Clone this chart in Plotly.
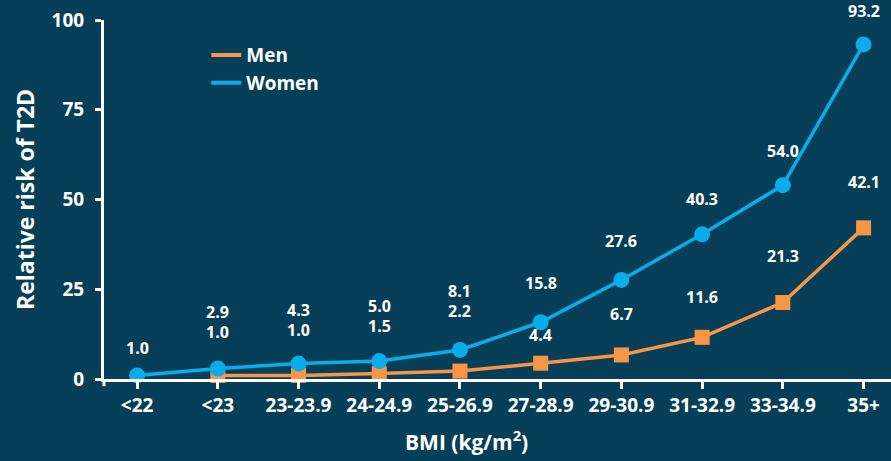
import plotly.graph_objects as go

# BMI categories and relative risk of type 2 diabetes
bmi_categories = ["<22", "<23", "23-23.9", "24-24.9", "25-26.9",
                  "27-28.9", "29-30.9", "31-32.9", "33-34.9", "35+"]
women_risk = [1.0, 2.9, 4.3, 5.0, 8.1, 15.8, 27.6, 40.3, 54.0, 93.2]
men_risk = [None, 1.0, 1.0, 1.5, 2.2, 4.4, 6.7, 11.6, 21.3, 42.1]
y_ticks = [0, 25, 50, 75, 100]

# vertical pixel offsets of the value labels above their markers
women_label_shift = [27, 57, 54, 55, 59, 39, 39, 35, 34, 33]
men_label_shift = [None, 43, 45, 48, 60, 28, 41, 40, 47, 46]

ORANGE = "#F79646"
BLUE = "#0AADEC"
BG = "#083F58"
FONT = "Open Sans"

fig = go.Figure()

fig.add_trace(go.Scatter(
    x=bmi_categories, y=men_risk, mode="lines+markers",
    line=dict(color=ORANGE, width=3.5),
    marker=dict(symbol="square", size=15, color=ORANGE),
    showlegend=False, cliponaxis=False, connectgaps=False,
))
fig.add_trace(go.Scatter(
    x=bmi_categories, y=women_risk, mode="lines+markers",
    line=dict(color=BLUE, width=3.5),
    marker=dict(symbol="circle", size=16, color=BLUE),
    showlegend=False, cliponaxis=False,
))

# legend entries drawn as plain lines
fig.add_trace(go.Scatter(x=[None], y=[None], mode="lines", name="Men",
                         line=dict(color=ORANGE, width=4)))
fig.add_trace(go.Scatter(x=[None], y=[None], mode="lines", name="Women",
                         line=dict(color=BLUE, width=4)))

label_font = dict(family=FONT, size=16, color="white", weight="bold")
for cat, v, s in zip(bmi_categories, women_risk, women_label_shift):
    fig.add_annotation(x=cat, y=v, text=f"{v:.1f}", showarrow=False,
                       yshift=s, font=label_font)
for cat, v, s in zip(bmi_categories, men_risk, men_label_shift):
    if v is None:
        continue
    fig.add_annotation(x=cat, y=v, text=f"{v:.1f}", showarrow=False,
                       yshift=s, font=label_font)

# axis titles
fig.add_annotation(xref="paper", yref="paper", x=-0.101, y=0.5,
                   xanchor="center", yanchor="middle",
                   text="Relative risk of T2D", textangle=-90, showarrow=False,
                   font=dict(family=FONT, size=23, color="white", weight="bold"))
fig.add_annotation(xref="paper", yref="paper", x=0.46, y=-0.17,
                   xanchor="center", yanchor="middle",
                   text="BMI (kg/m<sup>2</sup>)", showarrow=False,
                   font=dict(family=FONT, size=21, color="white", weight="bold"))

# small downward extension of the y axis line below the x axis
fig.add_shape(type="line", xref="paper", yref="paper", x0=0, x1=0,
              y0=0, y1=-0.02, line=dict(color="white", width=3))

tick_font = dict(family=FONT, size=19, color="white", weight="bold")
fig.update_xaxes(
    type="category", range=[-0.41, 9.34],
    showline=True, linecolor="white", linewidth=3,
    ticks="outside", ticklen=7, tickwidth=3, tickcolor="white",
    tickfont=tick_font, showgrid=False, zeroline=False,
)
fig.update_yaxes(
    range=[0, 100], tickvals=y_ticks,
    showline=True, linecolor="white", linewidth=3,
    ticks="outside", ticklen=6, tickwidth=3, tickcolor="white",
    ticklabelstandoff=7,
    tickfont=tick_font, showgrid=False, zeroline=False,
)

fig.update_layout(
    width=891, height=461,
    margin=dict(l=104, r=0, t=20, b=82),
    paper_bgcolor=BG, plot_bgcolor=BG,
    legend=dict(x=0.13, y=0.955, xanchor="left", yanchor="top",
                bgcolor="rgba(0,0,0,0)", tracegroupgap=0, itemwidth=30,
                font=dict(family=FONT, size=19, color="white", weight="bold")),
)

fig.write_html("out.html")
